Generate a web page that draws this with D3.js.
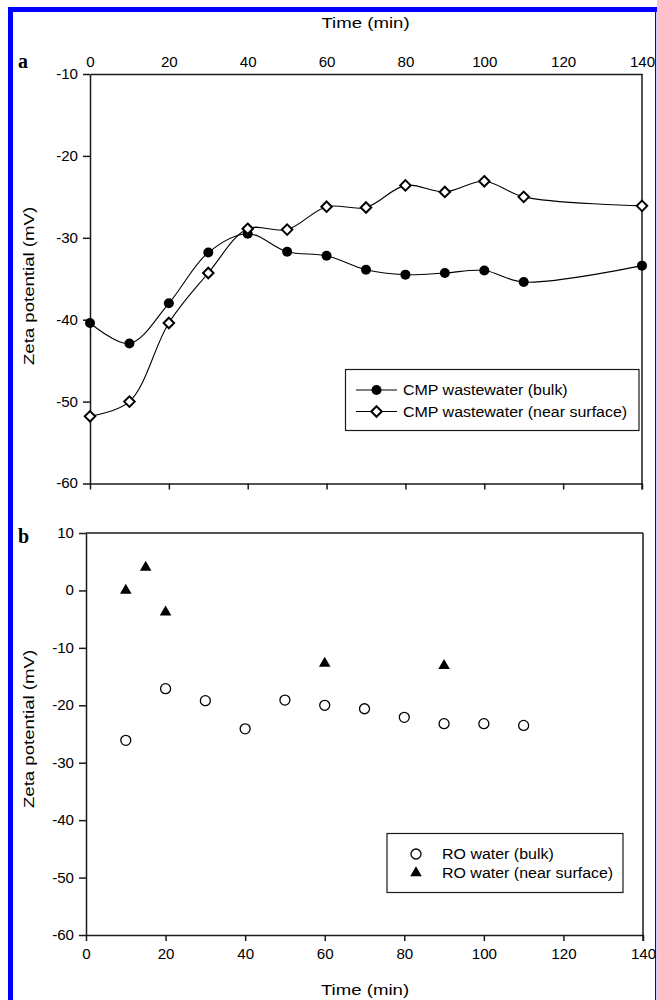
<!DOCTYPE html>
<html><head><meta charset="utf-8">
<script src="https://cdn.jsdelivr.net/npm/d3@7"></script>
<style>
body{margin:0;background:#fff}
svg{display:block}
text{font-family:"Liberation Sans",Arial,sans-serif;fill:#000}
.tick text{font-size:14px}
.title{font-size:15.5px}
.legend{font-size:14px}
</style>
</head><body>
<svg id="chart" width="657" height="1000"></svg>
<script>
// Panel a: CMP wastewater, zeta potential over time
const timeA = [0, 10, 20, 30, 40, 50, 60, 70, 80, 90, 100, 110, 140];
const cmpBulk = [-40.4, -42.9, -38.0, -31.8, -29.5, -31.7, -32.2, -33.9, -34.5, -34.3, -34.0, -35.4, -33.4];
const cmpSurface = [-51.8, -50.0, -40.4, -34.3, -28.9, -29.0, -26.2, -26.3, -23.6, -24.4, -23.1, -25.0, -26.1];

// Panel b: RO water, zeta potential over time
const roBulkTime = [10, 20, 30, 40, 50, 60, 70, 80, 90, 100, 110];
const roBulk = [-26.1, -17.1, -19.2, -24.1, -19.1, -20.0, -20.6, -22.1, -23.2, -23.2, -23.5];
const roSurfaceTime = [10, 15, 20, 60, 90];
const roSurface = [0.0, 4.0, -3.8, -12.7, -13.1];

// Tick labels
const xTicks = [0, 20, 40, 60, 80, 100, 120, 140];
const yTicksA = [-10, -20, -30, -40, -50, -60];
const yTicksB = [10, 0, -10, -20, -30, -40, -50, -60];

const svg = d3.select("#chart");
const ink = "#1a1a1a";
const fmt = d => d3.format("d")(d).replace("\u2212", "-");

// widen glyphs horizontally by factor k (keeps height)
function stretch(sel, k) {
  sel.each(function () {
    const w = this.getComputedTextLength();
    this.setAttribute("textLength", (w * k).toFixed(2));
    this.setAttribute("lengthAdjust", "spacingAndGlyphs");
  });
  return sel;
}

// page frame
svg.append("rect").attr("x", 8).attr("y", 7).attr("width", 5).attr("height", 993).attr("fill", "#0000ff");
svg.append("rect").attr("x", 8).attr("y", 7).attr("width", 649).attr("height", 5).attr("fill", "#0000ff");
svg.append("rect").attr("x", 655).attr("y", 7).attr("width", 1.2).attr("height", 993).attr("fill", "#0000ff");

function styleAxis(g) {
  g.attr("font-size", null).attr("font-family", null);
  g.selectAll("path.domain").attr("stroke", ink).attr("stroke-width", 1.5);
  g.selectAll(".tick line").attr("stroke", ink).attr("stroke-width", 1.5);
  const t = g.selectAll(".tick text")
    .attr("font-size", 14)
    .style("font-size", "14px")
    .attr("fill", "#000");
  stretch(t, 1.08);
}

// ---------- Panel a ----------
const xA = d3.scaleLinear().domain([0, 140]).range([90, 642]);
const yA = d3.scaleLinear().domain([-60, -10]).range([483.5, 74]);
const gA = svg.append("g");

// bottom axis: ticks only
gA.append("g").attr("transform", `translate(0,${yA(-60)})`)
  .call(d3.axisBottom(xA).tickValues(xTicks).tickSize(6).tickSizeOuter(0).tickFormat(""))
  .call(styleAxis);
// top axis: labels only
gA.append("g").attr("transform", `translate(0,${yA(-10)})`)
  .call(d3.axisTop(xA).tickValues(xTicks).tickSize(0).tickPadding(7).tickFormat(fmt))
  .call(styleAxis);
// left axis
gA.append("g").attr("transform", `translate(${xA(0)},0)`)
  .call(d3.axisLeft(yA).tickValues(yTicksA).tickSize(7).tickSizeOuter(0).tickPadding(5).tickFormat(fmt))
  .call(styleAxis);
// right edge
gA.append("line").attr("x1", xA(140)).attr("x2", xA(140)).attr("y1", yA(-10)).attr("y2", yA(-60) + 6)
  .attr("stroke", ink).attr("stroke-width", 1.5);

const lineA = d3.line().x(d => xA(d[0])).y(d => yA(d[1])).curve(d3.curveCatmullRom.alpha(0.5));
const bulkPts = timeA.map((t, i) => [t, cmpBulk[i]]);
const surfPts = timeA.map((t, i) => [t, cmpSurface[i]]);

gA.append("path").attr("d", lineA(bulkPts)).attr("fill", "none").attr("stroke", "#000").attr("stroke-width", 1.1);
gA.append("path").attr("d", lineA(surfPts)).attr("fill", "none").attr("stroke", "#000").attr("stroke-width", 1.1);

const diamond = d3.symbol().type(d3.symbolDiamond2).size(70);

gA.selectAll("circle.bulk").data(bulkPts).join("circle")
  .attr("cx", d => xA(d[0])).attr("cy", d => yA(d[1])).attr("r", 5).attr("fill", "#000");
gA.selectAll("path.surf").data(surfPts).join("path")
  .attr("transform", d => `translate(${xA(d[0])},${yA(d[1])})`)
  .attr("d", diamond).attr("fill", "#fff").attr("stroke", "#000").attr("stroke-width", 2);

// legend a
const legA = gA.append("g");
legA.append("rect").attr("x", 345.5).attr("y", 369.5).attr("width", 293.5).attr("height", 61)
  .attr("fill", "#fff").attr("stroke", ink).attr("stroke-width", 1.2);
[[390, "CMP wastewater (bulk)", "circle"], [411.5, "CMP wastewater (near surface)", "diamond"]].forEach(([y, label, kind]) => {
  legA.append("line").attr("x1", 356).attr("x2", 397).attr("y1", y).attr("y2", y).attr("stroke", "#000").attr("stroke-width", 1.1);
  if (kind === "circle") {
    legA.append("circle").attr("cx", 376.5).attr("cy", y).attr("r", 5).attr("fill", "#000");
  } else {
    legA.append("path").attr("transform", `translate(376.5,${y})`).attr("d", diamond)
      .attr("fill", "#fff").attr("stroke", "#000").attr("stroke-width", 2);
  }
  stretch(legA.append("text").attr("class", "legend").attr("x", 403).attr("y", y + 5).text(label), 1.14);
});

// titles a
stretch(svg.append("text").attr("class", "title").attr("x", 365.5).attr("y", 28).attr("text-anchor", "middle").text("Time (min)"), 1.2);
stretch(svg.append("text").attr("class", "title").attr("transform", "translate(34,286) rotate(-90)").attr("text-anchor", "middle")
  .text("Zeta potential (mV)"), 1.2);
svg.append("text").attr("x", 18).attr("y", 68).style("font-family", '"Liberation Serif","Times New Roman",serif')
  .style("font-weight", "bold").style("font-size", "20px").text("a");

// ---------- Panel b ----------
const xB = d3.scaleLinear().domain([0, 140]).range([86, 643]);
const yB = d3.scaleLinear().domain([-60, 10]).range([935, 533]);
const gB = svg.append("g");

gB.append("g").attr("transform", `translate(0,${yB(-60)})`)
  .call(d3.axisBottom(xB).tickValues(xTicks).tickSize(6).tickSizeOuter(0).tickPadding(8).tickFormat(fmt))
  .call(styleAxis);
gB.append("g").attr("transform", `translate(${xB(0)},0)`)
  .call(d3.axisLeft(yB).tickValues(yTicksB).tickSize(7).tickSizeOuter(0).tickPadding(5).tickFormat(fmt))
  .call(styleAxis);
gB.append("line").attr("x1", xB(0)).attr("x2", xB(140)).attr("y1", yB(10)).attr("y2", yB(10))
  .attr("stroke", ink).attr("stroke-width", 1.5);
gB.append("line").attr("x1", xB(140)).attr("x2", xB(140)).attr("y1", yB(10)).attr("y2", yB(-60) + 6)
  .attr("stroke", ink).attr("stroke-width", 1.5);

const tri = d3.symbol().type(d3.symbolTriangle).size(58);

gB.selectAll("circle.ro").data(roBulkTime.map((t, i) => [t, roBulk[i]])).join("circle")
  .attr("cx", d => xB(d[0])).attr("cy", d => yB(d[1])).attr("r", 5)
  .attr("fill", "#fff").attr("stroke", "#000").attr("stroke-width", 1.3);
gB.selectAll("path.ro").data(roSurfaceTime.map((t, i) => [t, roSurface[i]])).join("path")
  .attr("transform", d => `translate(${xB(d[0])},${yB(d[1])})`)
  .attr("d", tri).attr("fill", "#000");

// legend b
const legB = gB.append("g");
legB.append("rect").attr("x", 387).attr("y", 833.5).attr("width", 236).attr("height", 59)
  .attr("fill", "#fff").attr("stroke", ink).attr("stroke-width", 1.2);
legB.append("circle").attr("cx", 416).attr("cy", 854).attr("r", 5)
  .attr("fill", "#fff").attr("stroke", "#000").attr("stroke-width", 1.3);
legB.append("path").attr("transform", "translate(416,873)").attr("d", tri).attr("fill", "#000");
stretch(legB.append("text").attr("class", "legend").attr("x", 442).attr("y", 859).text("RO water (bulk)"), 1.14);
stretch(legB.append("text").attr("class", "legend").attr("x", 442).attr("y", 878).text("RO water (near surface)"), 1.14);

// titles b
stretch(svg.append("text").attr("class", "title").attr("x", 365).attr("y", 995).attr("text-anchor", "middle").text("Time (min)"), 1.2);
stretch(svg.append("text").attr("class", "title").attr("transform", "translate(34,729) rotate(-90)").attr("text-anchor", "middle")
  .text("Zeta potential (mV)"), 1.2);
svg.append("text").attr("x", 18).attr("y", 543).style("font-family", '"Liberation Serif","Times New Roman",serif')
  .style("font-weight", "bold").style("font-size", "20px").text("b");
</script>
</body></html>
